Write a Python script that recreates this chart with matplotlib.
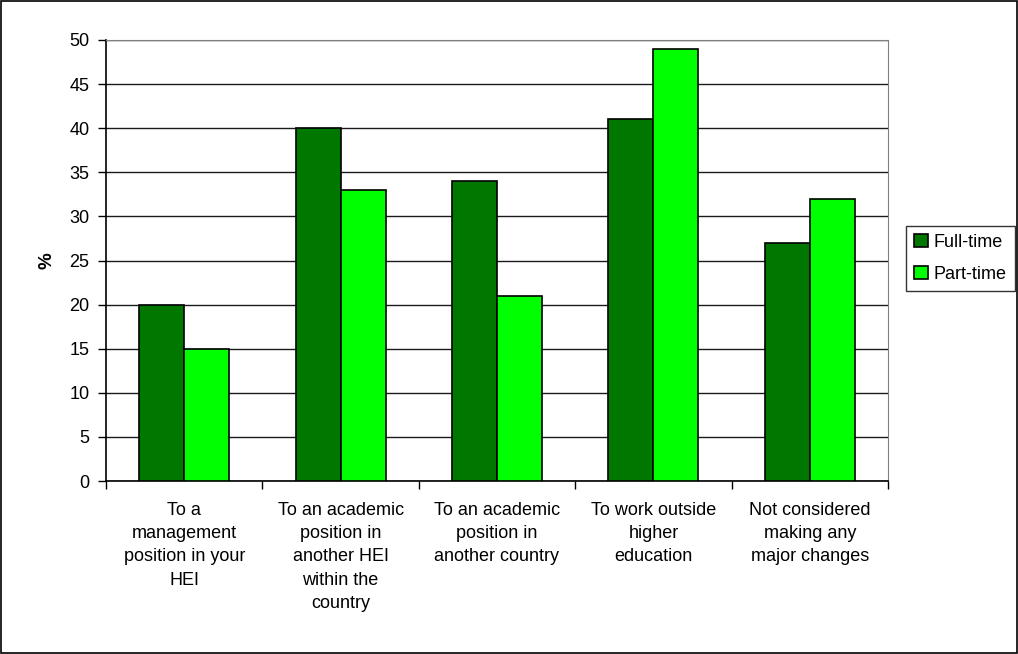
import numpy as np
import matplotlib.pyplot as plt
from matplotlib.patches import Rectangle

plt.rcParams['font.family'] = ['Liberation Sans', 'DejaVu Sans']

categories = [
    "To a\nmanagement\nposition in your\nHEI",
    "To an academic\nposition in\nanother HEI\nwithin the\ncountry",
    "To an academic\nposition in\nanother country",
    "To work outside\nhigher\neducation",
    "Not considered\nmaking any\nmajor changes",
]
full_time = [20, 40, 34, 41, 27]
part_time = [15, 33, 21, 49, 32]

fig = plt.figure(figsize=(10.18, 6.54), dpi=100)
ax = fig.add_axes([106 / 1018, 1 - 481 / 654, (888 - 106) / 1018, (481 - 40) / 654])

x = np.arange(len(categories))
w = 0.288
ax.bar(x - w / 2, full_time, w, color='#007800', edgecolor='black', linewidth=1.2,
       label='Full-time', zorder=3)
ax.bar(x + w / 2, part_time, w, color='#00ff00', edgecolor='black', linewidth=1.2,
       label='Part-time', zorder=3)

ax.set_xlim(-0.5, len(categories) - 0.5)
ax.set_ylim(0, 50)
ax.set_yticks(range(0, 51, 5))
ax.tick_params(axis='y', labelsize=13, length=6, direction='out', width=1, pad=6)
ax.yaxis.grid(True, color='#1a1a1a', linewidth=1, zorder=0)

# category labels sit between tick marks placed at group boundaries
ax.set_xticks(np.arange(-0.5, len(categories), 1))
ax.set_xticklabels([])
ax.set_xticks(x, minor=True)
ax.set_xticklabels(categories, minor=True, fontsize=13, linespacing=1.48, va='top')
ax.tick_params(axis='x', which='major', length=6, width=1, direction='out')
ax.tick_params(axis='x', which='minor', length=0, pad=15)

for side in ['top', 'right']:
    ax.spines[side].set_color('#808080')
ax.spines['left'].set_linewidth(1.2)
ax.spines['bottom'].set_linewidth(1.2)

ax.set_ylabel('%', fontsize=13.5, fontweight='bold', labelpad=10)

leg = fig.legend(loc='upper left', bbox_to_anchor=(906 / 1018, 1 - 226 / 654), fontsize=13,
                 frameon=True, fancybox=False, edgecolor='black', handlelength=0.75,
                 handleheight=0.75, handletextpad=0.35, borderpad=0.45, labelspacing=0.8,
                 borderaxespad=0)
leg.get_frame().set_linewidth(1)

fig.patches.append(Rectangle((0.001, 0.001), 0.998, 0.997, transform=fig.transFigure,
                             fill=False, edgecolor='black', linewidth=1.2))

fig.savefig('out.png', dpi=100)
